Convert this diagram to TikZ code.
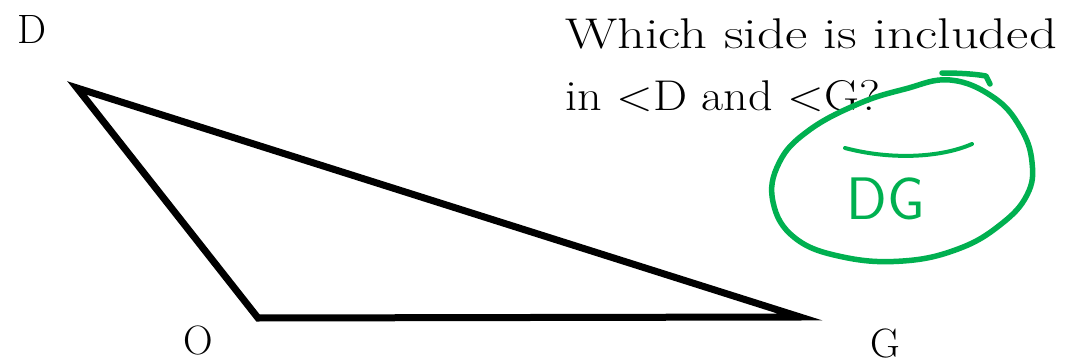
\documentclass[tikz,border=0pt]{standalone}
\usepackage{fontspec}
\usetikzlibrary{positioning}
\definecolor{Marker}{HTML}{00B050}
\newcommand{\widetext}[2][1.27]{\scalebox{#1}[1]{#2}}
\tikzset{side/.style={draw=black,line width=7pt,line join=miter},
  vname/.style={font=\fontsize{41}{50}\selectfont,inner sep=0pt},
  prompt/.style={font=\fontsize{43}{62}\selectfont,align=left,inner sep=0pt},
  pen/.style={draw=Marker,line width=5.5pt,line cap=round,line join=round}}

\begin{document}
\begin{tikzpicture}[x=1pt,y=-1pt]
\useasboundingbox (0,0) rectangle (1072,364);
% triangle DOG
\coordinate (D) at (77,88);
\coordinate (O) at (258,318);
\coordinate (G) at (800,317);
\draw[side] (D)--(O)--(G)--cycle;
\node[vname] (lD) at (31.5,29) {D};
\node[vname] (lO) at (198.5,340) {O};
\node[vname] (lG) at (885.5,343) {G};
% question
\node[prompt,anchor=north west] (q) at (565,18)
  {\widetext{Which side is included}\\\widetext[1.12]{in <D and <G?}};
% green answer
\node[font=\sffamily\fontsize{60}{70}\selectfont,text=Marker,inner sep=0pt] (ans) at (886,199) {DG};
\draw[pen,line width=4pt] (845,148) .. controls (890,160) and (940,158) .. (972,144);
\draw[pen] plot[smooth cycle,tension=0.7] coordinates {(950,80) (993,97) (1020,127)
  (1032,162) (1027,195) (1000,225) (958,249) (903,261) (843,257) (795,238)
  (773,202) (779,163) (808,131) (858,104) (905,89)};
\draw[pen] (942,73) .. controls (960,73) and (975,74) .. (986,76) -- (990,84);
\end{tikzpicture}
\end{document}
